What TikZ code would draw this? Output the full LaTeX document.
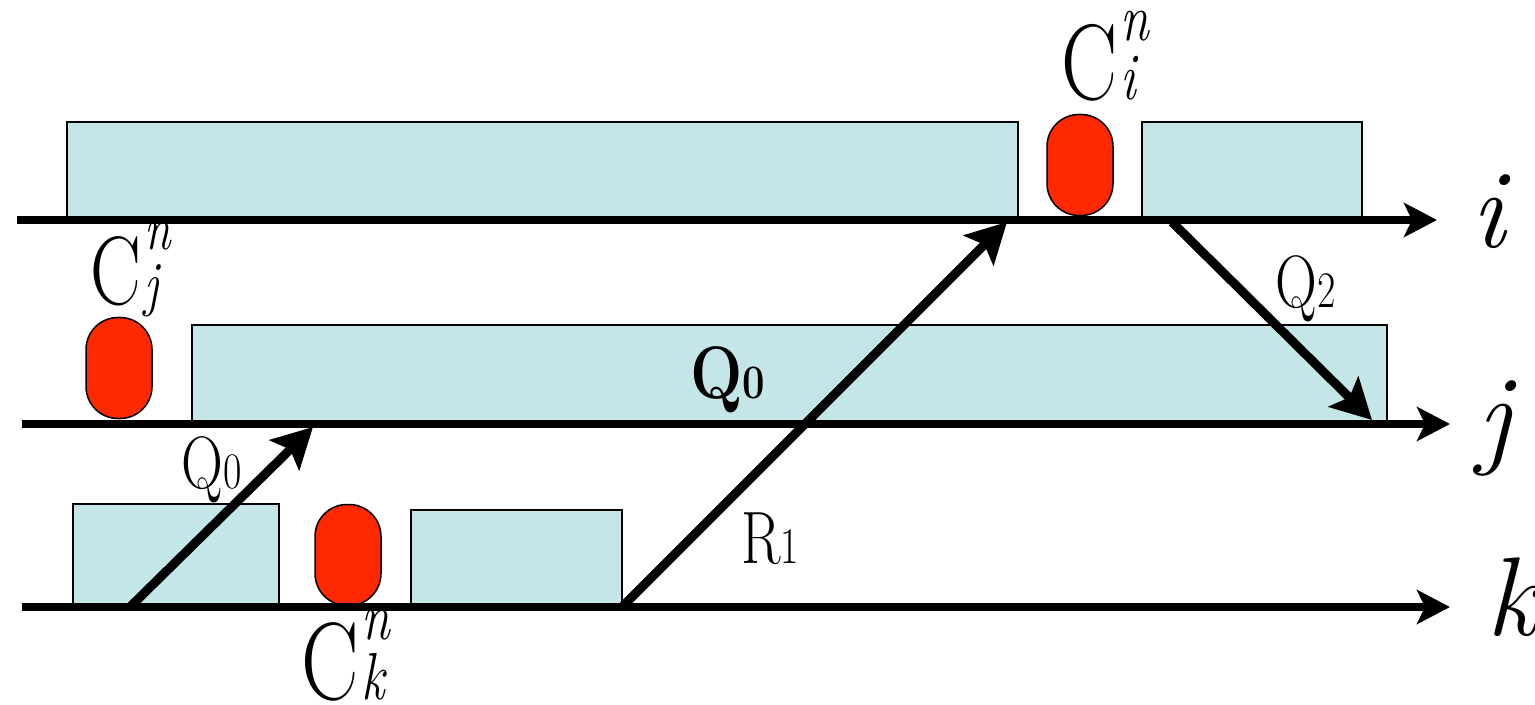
\documentclass[tikz,border=0pt]{standalone}
\usepackage{fontspec}
\usetikzlibrary{arrows.meta, math}
\definecolor{qcyan}{RGB}{196,230,232}
\definecolor{qred}{RGB}{255,40,0}

\newcommand{\Cname}[2]{\scalebox{1}[1.28]{C\kern1.5pt{\fontsize{#2}{#2}\selectfont\itshape\rlap{\raisebox{0.9em}{n}}#1}}}
\newcommand{\Qlab}[2]{\scalebox{1}[1.28]{#1{\fontsize{20}{20}\selectfont #2}}}

\tikzset{
  slot/.style={draw=black, line width=0.75pt, fill=qcyan},
  token/.style={draw=black, line width=0.75pt, fill=qred, rounded corners=16pt,
    minimum width=33pt, minimum height=50.5pt, inner sep=0pt},
  axis/.style={line width=4pt, -{Stealth[length=16.5pt, width=17pt, inset=4pt]}},
  flow/.style={line width=4.5pt, -{Stealth[length=20pt, width=21pt, inset=4pt]}},
  axlab/.style={font=\fontsize{56}{56}\selectfont\itshape, inner sep=0pt, anchor=base},
  cname/.style={font=\fontsize{42}{42}\selectfont, inner sep=0pt, anchor=base west},
  qlab/.style={font=\fontsize{29}{29}\selectfont, inner sep=0pt, anchor=base}
}

\begin{document}
\begin{tikzpicture}[x=0.5pt, y=-0.5pt]
\useasboundingbox (0,0) rectangle (1535,705);

%busy slots:
 \draw[slot] (67,122) rectangle (1018,220);
 \draw[slot] (1142,122) rectangle (1362,220);
 \draw[slot] (192,325) rectangle (1387,424);
 \draw[slot] (73,504) rectangle (279,607);
 \draw[slot] (411,510) rectangle (622,607);

%commit tokens
 \node[token] (ci) at (1080,165) {};
 \node[token] (cj) at (119,368) {};
 \node[token] (ck) at (348,555) {};

%axes:
 \foreach \y/\xs/\xe/\ax in {220/17/1437/i, 424/22/1450/j, 607/22/1450/k}{
  \coordinate (s\ax) at (\xs,\y);
  \coordinate (e\ax) at (\xe,\y);
  \draw[axis] (s\ax) -- (e\ax);
 }
 \node[axlab] (li) at (1488,248) {i};
 \node[axlab] (lj) at (1494,453) {j};
 \node[axlab] (lk) at (1512,635) {k};

%messages
 \coordinate (q0s) at (130,607);
 \coordinate (q0e) at (313,427);
 \coordinate (r1s) at (622,607);
 \coordinate (r1e) at (1007,222);
 \coordinate (q2s) at (1172,222);
 \coordinate (q2e) at (1372,420);
 \draw[flow] (q0s) -- (q0e);
 \draw[flow] (r1s) -- (r1e);
 \draw[flow] (q2s) -- (q2e);

 \node[qlab] (lq0) at (212,488) {\Qlab{Q}{0}};
 \node[qlab] (lr1) at (770,563) {\Qlab{R}{1}};
 \node[qlab] (lq2) at (1306,308) {\Qlab{Q}{2}};
 \node[qlab, font=\fontsize{31}{31}\selectfont\bfseries] (lq0b) at (728,398) {\scalebox{1}[1.2]{Q{\fontsize{20}{20}\selectfont 0}}};

 \node[cname] (Ci) at (1061,100) {\Cname{i}{26}};
 \node[cname, font=\fontsize{38}{38}\selectfont] (Cj) at (90,305) {\Cname{j}{24}};
 \node[cname, font=\fontsize{43}{43}\selectfont] (Ck) at (301,699) {\Cname{k}{26}};
\end{tikzpicture}
\end{document}
